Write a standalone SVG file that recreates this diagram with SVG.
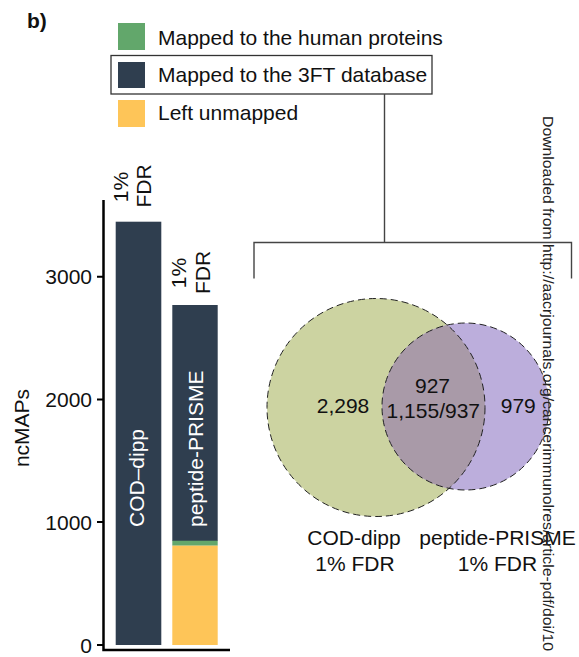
<svg xmlns="http://www.w3.org/2000/svg" width="579" height="657" viewBox="0 0 579 657">
<style>
text{font-family:"Liberation Sans",Arial,sans-serif;font-size:21px;fill:#111}
.w{fill:#fff}
.ax{stroke:#000;stroke-width:2.5;fill:none}
.tk{stroke:#000;stroke-width:2}
.br{stroke:#444;stroke-width:1.4;fill:none}
.dash{fill:none;stroke:#222;stroke-width:1;stroke-dasharray:7 4}
.dark{fill:#2f3e4f}
.grn{fill:#62a76b}
.yel{fill:#fec558}
</style>
<defs>
<clipPath id="cl"><circle cx="376" cy="407.5" r="109"/></clipPath>
</defs>
<rect width="579" height="657" fill="#fff"/>
<text x="27" y="28" style="font-weight:bold">b)</text>

<g id="legend">
<rect class="grn" x="118" y="23" width="27" height="27"/>
<text x="158" y="45">Mapped to the human proteins</text>
<rect x="111" y="55.5" width="321" height="38.5" fill="none" stroke="#333" stroke-width="1.3"/>
<rect class="dark" x="118" y="62" width="27" height="26"/>
<text x="158" y="81.5">Mapped to the 3FT database</text>
<rect class="yel" x="118" y="100" width="27" height="27"/>
<text x="158" y="119.5">Left unmapped</text>
</g>

<g id="connectors">
<path class="br" d="M384.5 94V242.5M254 278.5V242.5H571.5V278.5"/>
</g>

<g id="barchart">
<path class="ax" d="M103.5 200V650H230"/>
<path class="tk" d="M97 645H103M97 522H103M97 399.5H103M97 276.7H103"/>
<text x="92" y="652.5" text-anchor="end">0</text>
<text x="92" y="529.5" text-anchor="end">1000</text>
<text x="92" y="407" text-anchor="end">2000</text>
<text x="92" y="284.2" text-anchor="end">3000</text>
<text transform="translate(28.5,428) rotate(-90)" text-anchor="middle">ncMAPs</text>
<g id="bar1">
<rect class="dark" x="115.7" y="221.7" width="45.6" height="423.3"/>
<text class="w" transform="translate(143.5,527) rotate(-90)">COD–dipp</text>
<text transform="translate(127.5,187) rotate(-90)" text-anchor="middle">1%</text>
<text transform="translate(150.5,186) rotate(-90)" text-anchor="middle">FDR</text>
</g>
<g id="bar2">
<rect class="dark" x="172.3" y="305" width="45.4" height="236"/>
<rect class="grn" x="172.3" y="540.7" width="45.4" height="5"/>
<rect class="yel" x="172.3" y="545.7" width="45.4" height="99.3"/>
<text class="w" transform="translate(203,527) rotate(-90)">peptide-PRISME</text>
<text transform="translate(185.5,273) rotate(-90)" text-anchor="middle">1%</text>
<text transform="translate(210,272.5) rotate(-90)" text-anchor="middle">FDR</text>
</g>
</g>

<g id="venn">
<circle cx="376" cy="407.5" r="109" fill="#ccd3a1"/>
<circle cx="465.5" cy="406.5" r="83.5" fill="#bcaedc"/>
<circle cx="465.5" cy="406.5" r="83.5" fill="#a99aa8" clip-path="url(#cl)"/>
<circle class="dash" cx="376" cy="407.5" r="109"/>
<circle class="dash" cx="465.5" cy="406.5" r="83.5"/>
<text x="343" y="413" text-anchor="middle">2,298</text>
<text x="432.5" y="393" text-anchor="middle">927</text>
<text x="433.3" y="418" text-anchor="middle">1,155/937</text>
<text x="518.3" y="413" text-anchor="middle">979</text>
<text x="354" y="545" text-anchor="middle">COD-dipp</text>
<text x="355" y="571" text-anchor="middle">1% FDR</text>
<text x="497.5" y="545" text-anchor="middle">peptide-PRISME</text>
<text x="497.5" y="571" text-anchor="middle">1% FDR</text>
</g>

<text transform="translate(543,116) rotate(90)" style="font-size:15.5px;fill:#222" textLength="535" lengthAdjust="spacingAndGlyphs">Downloaded from http://aacrjournals.org/cancerimmunolres/article-pdf/doi/10</text>
</svg>
